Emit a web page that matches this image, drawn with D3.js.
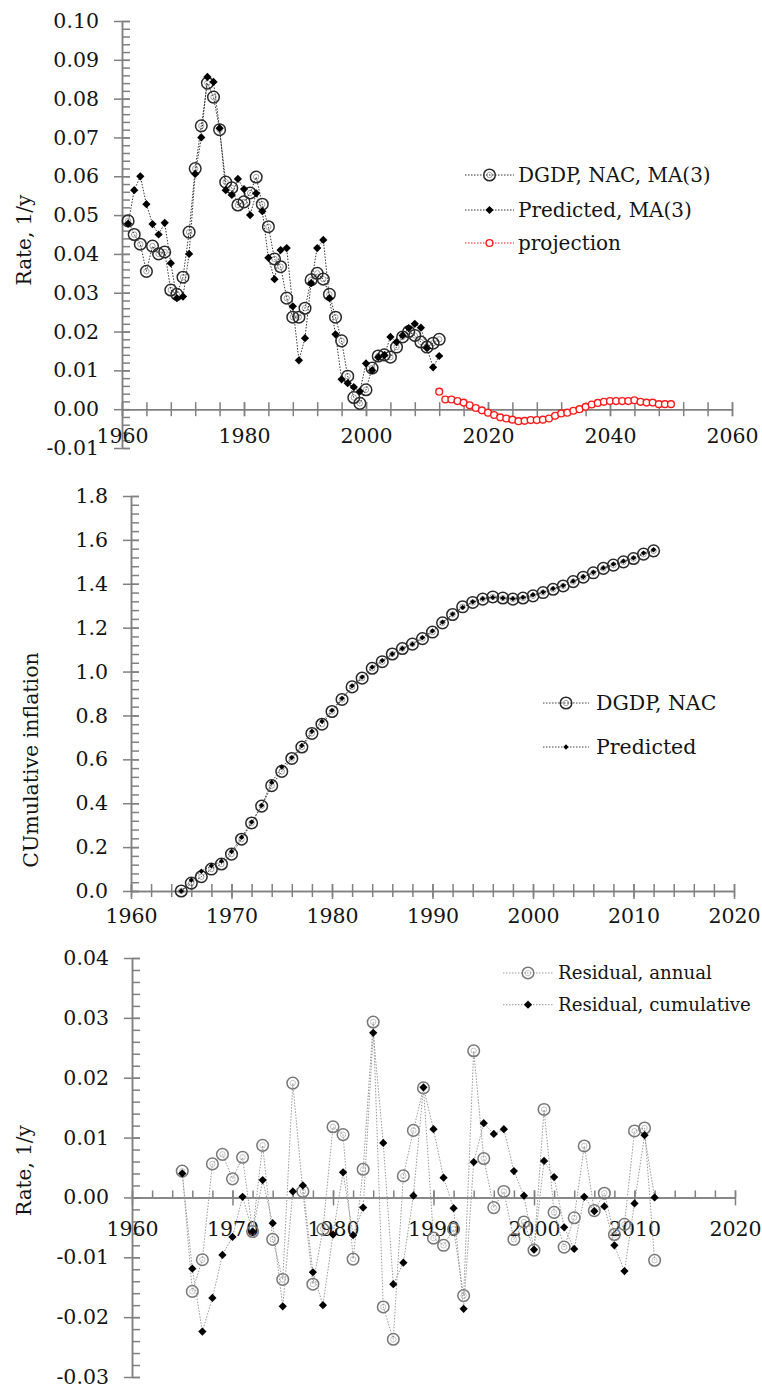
<!DOCTYPE html>
<html>
<head>
<meta charset="utf-8">
<script src="https://cdn.jsdelivr.net/npm/d3@7"></script>
<style>
  body { margin: 0; background: #fff; }
  text { font-family: "DejaVu Serif", serif; fill: #141414; }
</style>
</head>
<body>
<svg id="chart" width="762" height="1390"></svg>
<script>
// ---- data: top panel (rate, MA(3)) ----
const topYears = d3.range(1961, 2013);
const dgdpMA = [0.0485, 0.045, 0.0425, 0.0355, 0.042, 0.040, 0.0405, 0.0307, 0.0296, 0.034,
  0.0456, 0.062, 0.073, 0.084, 0.0804, 0.072, 0.0585, 0.057, 0.0526, 0.0534,
  0.0557, 0.0598, 0.0528, 0.047, 0.0387, 0.0367, 0.0286, 0.0237, 0.0237, 0.026,
  0.0333, 0.035, 0.0335, 0.0296, 0.0237, 0.0176, 0.0085, 0.003, 0.0015, 0.005,
  0.0106, 0.0137, 0.014, 0.0134, 0.016, 0.0186, 0.020, 0.019, 0.0173, 0.016,
  0.017, 0.018];
const predictedMA = [0.0478, 0.0564, 0.060, 0.0528, 0.0477, 0.045, 0.048, 0.0376, 0.0286, 0.029,
  0.040, 0.0606, 0.070, 0.0856, 0.0843, 0.0724, 0.0564, 0.0552, 0.0593, 0.0567,
  0.050, 0.0556, 0.051, 0.039, 0.0335, 0.041, 0.0415, 0.0265, 0.0126, 0.0183,
  0.0325, 0.0415, 0.0436, 0.0286, 0.0193, 0.0077, 0.0067, 0.0057, 0.0046, 0.0118,
  0.010, 0.0134, 0.0139, 0.0186, 0.0173, 0.019, 0.0209, 0.022, 0.021, 0.0157,
  0.0108, 0.0137];
const projYears = d3.range(2012, 2051);
const projection = [0.0045, 0.0025, 0.0025, 0.0021, 0.0017, 0.0010, 0.0003, -0.0003, -0.0009, -0.0015,
  -0.0021, -0.0024, -0.0027, -0.0031, -0.0030, -0.0028, -0.0028, -0.0027, -0.0024, -0.0017,
  -0.0011, -0.0009, -0.0004, 0.0000, 0.0006, 0.0012, 0.0016, 0.0019, 0.0021, 0.0021,
  0.0021, 0.0021, 0.0023, 0.0019, 0.0017, 0.0017, 0.0013, 0.0013, 0.0013];

// ---- data: middle panel (cumulative inflation) ----
const cumYears = d3.range(1965, 2013);
const dgdpCum = [0.0, 0.036, 0.065, 0.10, 0.123, 0.168, 0.236, 0.31, 0.387, 0.48,
  0.545, 0.604, 0.656, 0.718, 0.76, 0.818, 0.873, 0.93, 0.97, 1.015,
  1.045, 1.08, 1.105, 1.125, 1.15, 1.18, 1.222, 1.26, 1.295, 1.315,
  1.33, 1.34, 1.335, 1.33, 1.335, 1.345, 1.36, 1.375, 1.39, 1.41,
  1.43, 1.45, 1.47, 1.485, 1.50, 1.515, 1.535, 1.55];
const predictedCum = [0.0, 0.05, 0.09, 0.115, 0.136, 0.18, 0.245, 0.314, 0.39, 0.495,
  0.565, 0.608, 0.663, 0.728, 0.773, 0.823, 0.878, 0.935, 0.975, 1.02,
  1.05, 1.08, 1.105, 1.125, 1.155, 1.185, 1.225, 1.262, 1.292, 1.318,
  1.332, 1.338, 1.335, 1.332, 1.338, 1.35, 1.362, 1.378, 1.392, 1.412,
  1.432, 1.452, 1.472, 1.49, 1.503, 1.518, 1.54, 1.555];

// ---- data: bottom panel (residuals) ----
const resYears = d3.range(1965, 2013);
const resAnnual = [0.0044, -0.0157, -0.0104, 0.0056, 0.0072, 0.0031, 0.0067, -0.0057, 0.0087, -0.0070,
  -0.0137, 0.0191, 0.0010, -0.0145, -0.0053, 0.0118, 0.0105, -0.0103, 0.0047, 0.0293,
  -0.0183, -0.0237, 0.0036, 0.0112, 0.0183, -0.0068, -0.0080, -0.0053, -0.0164, 0.0245,
  0.0065, -0.0017, 0.0010, -0.0070, -0.0041, -0.0088, 0.0147, -0.0025, -0.0083, -0.0034,
  0.0086, -0.0022, 0.0007, -0.0062, -0.0045, 0.0111, 0.0116, -0.0105];
const resCumulative = [0.0040, -0.0119, -0.0224, -0.0168, -0.0096, -0.0066, 0.0001, -0.0057, 0.0029, -0.0043,
  -0.0182, 0.0010, 0.0020, -0.0125, -0.0180, -0.0062, 0.0042, -0.0063, -0.0017, 0.0275,
  0.0091, -0.0145, -0.0109, 0.0003, 0.0184, 0.0114, 0.0033, -0.0018, -0.0186, 0.0059,
  0.0124, 0.0106, 0.0114, 0.0044, 0.0003, -0.0087, 0.0061, 0.0034, -0.0050, -0.0086,
  0.0001, -0.0023, -0.0015, -0.0080, -0.0123, -0.0010, 0.0104, 0.0000];

const svg = d3.select("#chart");
const axisColor = "#808080";

// plain hyphen for negatives, like the original
const fmt = spec => d => d3.format(spec)(d).replace("\u2212", "-");

// draws axes for one panel: y axis at left end of x range, x axis at y(0)
function drawAxes(g, x, y, o) {
  const x0 = x.range()[0];
  const yz = y(0);

  // y minor ticks (inside, right of axis)
  g.append("g").attr("transform", `translate(${x0},0)`)
    .call(d3.axisRight(y).tickValues(o.yMinor).tickSize(8).tickSizeOuter(0).tickFormat(""));
  // y major ticks crossing the axis, with labels
  const ya = g.append("g").attr("transform", `translate(${x0},0)`)
    .call(d3.axisLeft(y).tickValues(o.yMajor).tickSize(8).tickSizeOuter(0).tickPadding(15).tickFormat(o.yFmt));
  ya.selectAll(".tick line").attr("x1", 8);

  // x minor ticks
  const xm = g.append("g").attr("transform", `translate(0,${yz})`)
    .call(d3.axisBottom(x).tickValues(o.xMinor).tickSize(o.xMinorDown).tickSizeOuter(0).tickFormat(""));
  xm.selectAll(".tick line").attr("y1", -o.xMinorUp);
  // x major ticks
  const xa = g.append("g").attr("transform", `translate(0,${yz})`)
    .call(d3.axisBottom(x).tickValues(o.xMajor).tickSize(o.xMajorDown).tickSizeOuter(0).tickFormat(""));
  xa.selectAll(".tick line").attr("y1", -o.xMajorUp);

  // x labels sit on their own row below the zero line
  g.append("g").attr("transform", `translate(0,${o.xLabelY})`)
    .call(d3.axisBottom(x).tickValues(o.xMajor).tickSize(0).tickFormat(d3.format("d")))
    .call(s => s.select(".domain").remove());

  g.selectAll(".domain, .tick line").attr("stroke", axisColor).attr("stroke-width", 1.5);
  g.selectAll(".tick text").attr("font-size", o.fontSize).attr("font-family", "DejaVu Serif").attr("fill", "#141414");
}

function ringMarker(sel, cx, cy, color) {
  sel.append("circle").attr("cx", cx).attr("cy", cy).attr("r", 5.8)
    .attr("fill", "none").attr("stroke", color).attr("stroke-width", 1.5);
  sel.append("circle").attr("cx", cx).attr("cy", cy).attr("r", 2.7)
    .attr("fill", "none").attr("stroke", color).attr("stroke-width", 0.7).attr("opacity", 0.6);
}

const diamond = d3.symbol().type(d3.symbolSquare);

function drawMarker(m, px, py, s) {
  if (s.kind === "ring") ringMarker(m, px, py, s.color);
  else if (s.kind === "diamond") {
    m.append("path").attr("d", diamond.size(s.size)())
      .attr("transform", `translate(${px},${py}) rotate(45)`).attr("fill", s.color);
  } else if (s.kind === "small") {
    m.append("circle").attr("cx", px).attr("cy", py).attr("r", 3.4)
      .attr("fill", "#fff").attr("stroke", s.color).attr("stroke-width", 1.4);
  }
}

function series(g, x, y, years, vals, s) {
  const pts = years.map((yr, i) => [x(yr), y(vals[i])]);
  g.append("path").attr("d", d3.line()(pts)).attr("fill", "none")
    .attr("stroke", s.lineColor).attr("stroke-width", 1).attr("stroke-dasharray", "1.5,1.5");
  const m = g.append("g");
  pts.forEach(p => drawMarker(m, p[0], p[1], s));
}

function legend(g, items, x0, x1, xt, rows, fontSize) {
  items.forEach((it, i) => {
    const yy = rows[i];
    g.append("line").attr("x1", x0).attr("x2", x1).attr("y1", yy).attr("y2", yy)
      .attr("stroke", it.lineColor).attr("stroke-width", 1).attr("stroke-dasharray", "1.5,1.5");
    drawMarker(g, (x0 + x1) / 2, yy, it);
    g.append("text").attr("x", xt).attr("y", yy).attr("dy", "0.35em")
      .attr("font-size", fontSize).text(it.label);
  });
}

function yTitle(g, text, cx, cy, fontSize) {
  g.append("text").attr("transform", `translate(${cx},${cy}) rotate(-90)`)
    .attr("text-anchor", "middle").attr("dy", "0.35em").attr("font-size", fontSize).text(text);
}

// ---------- top panel ----------
{
  const g = svg.append("g");
  const x = d3.scaleLinear().domain([1960, 2060]).range([122, 732]);
  const y = d3.scaleLinear().domain([-0.01, 0.10]).range([448, 21]);
  drawAxes(g, x, y, {
    yMajor: d3.range(-0.01, 0.1001, 0.01), yMinor: d3.range(-0.01, 0.1001, 0.002),
    yFmt: fmt(".2f"),
    xMajor: [1960, 1980, 2000, 2020, 2040, 2060], xMinor: d3.range(1960, 2061, 4),
    xMinorUp: 7, xMinorDown: 7, xMajorUp: 7, xMajorDown: 7,
    xLabelY: 425, fontSize: 20.5
  });
  const sDgdp = { kind: "ring", color: "#2a2a2a", lineColor: "#333", label: "DGDP, NAC, MA(3)" };
  const sPred = { kind: "diamond", color: "#000", size: 34, lineColor: "#333", label: "Predicted, MA(3)" };
  const sProj = { kind: "small", color: "#ff1a1a", lineColor: "#ff1a1a", label: "projection" };
  series(g, x, y, topYears, dgdpMA, sDgdp);
  series(g, x, y, topYears, predictedMA, sPred);
  series(g, x, y, projYears, projection, sProj);
  legend(g, [sDgdp, sPred, sProj], 465, 514, 518, [175, 210, 243], 20);
  yTitle(g, "Rate, 1/y", 24, 240, 20);
}

// ---------- middle panel ----------
{
  const g = svg.append("g");
  const x = d3.scaleLinear().domain([1960, 2020]).range([131, 734]);
  const y = d3.scaleLinear().domain([0, 1.8]).range([891, 496]);
  drawAxes(g, x, y, {
    yMajor: d3.range(0, 1.801, 0.2), yMinor: d3.range(0, 1.801, 0.04),
    yFmt: fmt(".1f"),
    xMajor: d3.range(1960, 2021, 10), xMinor: d3.range(1960, 2021, 2),
    xMinorUp: 7, xMinorDown: 6, xMajorUp: 7, xMajorDown: 8,
    xLabelY: 905, fontSize: 20.5
  });
  const sDgdp = { kind: "ring", color: "#2a2a2a", lineColor: "#444", label: "DGDP, NAC" };
  const sPred = { kind: "diamond", color: "#000", size: 14, lineColor: "#444", label: "Predicted" };
  series(g, x, y, cumYears, dgdpCum, sDgdp);
  series(g, x, y, cumYears, predictedCum, sPred);
  legend(g, [sDgdp, sPred], 543, 589, 596, [703, 747], 20.5);
  yTitle(g, "CUmulative inflation", 31, 760, 20.5);
}

// ---------- bottom panel ----------
{
  const g = svg.append("g");
  const x = d3.scaleLinear().domain([1960, 2020]).range([132, 735]);
  const y = d3.scaleLinear().domain([-0.03, 0.04]).range([1377, 958]);
  drawAxes(g, x, y, {
    yMajor: d3.range(-0.03, 0.0401, 0.01), yMinor: d3.range(-0.03, 0.0401, 0.002),
    yFmt: fmt(".2f"),
    xMajor: d3.range(1960, 2021, 10), xMinor: d3.range(1960, 2021, 2),
    xMinorUp: 7, xMinorDown: 0, xMajorUp: 7, xMajorDown: 8,
    xLabelY: 1218, fontSize: 20.5
  });
  const sAnn = { kind: "ring", color: "#777", lineColor: "#999", label: "Residual, annual" };
  const sCum = { kind: "diamond", color: "#000", size: 34, lineColor: "#999", label: "Residual, cumulative" };
  series(g, x, y, resYears, resAnnual, sAnn);
  series(g, x, y, resYears, resCumulative, sCum);
  legend(g, [sAnn, sCum], 503, 553, 558, [y(0.0375), y(0.0322)], 18.2);
  yTitle(g, "Rate, 1/y", 24, y(0.0045), 20);
}
</script>
</body>
</html>
